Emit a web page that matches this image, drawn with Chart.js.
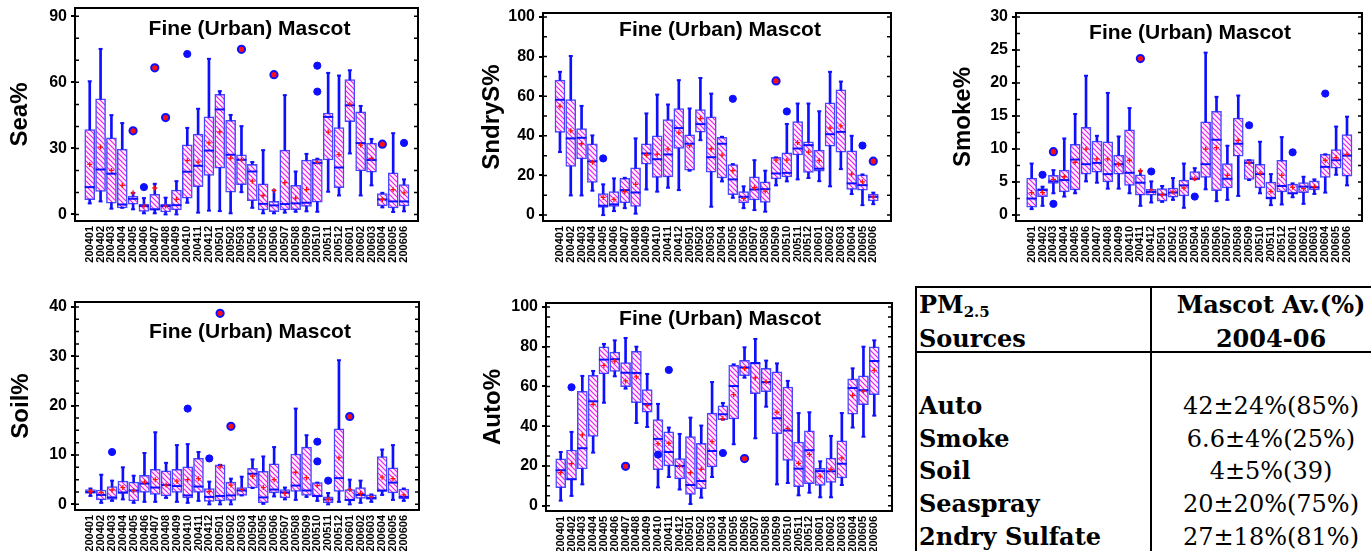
<!DOCTYPE html>
<html>
<head>
<meta charset="utf-8">
<title>Fine (Urban) Mascot</title>
<script src="https://cdn.jsdelivr.net/npm/chart.js@4.4.1/dist/chart.umd.min.js"></script>
<style>
  body { margin: 0; background: #fff; width: 1371px; height: 551px; overflow: hidden; position: relative; }
  canvas { position: absolute; }
  .line { position: absolute; background: #000; }
  .txt { position: absolute; font-family: "DejaVu Serif", "Liberation Serif", serif; font-size: 24px; line-height: 28px; white-space: nowrap; color: #000; }
  .l { left: 919px; font-weight: bold; }
  .r { left: 1152px; width: 238px; text-align: center; }
  .b { font-weight: bold; }
  .sub { font-size: 15px; position: relative; top: 4px; }
</style>
</head>
<body>
<canvas id="sea" width="430" height="275" style="left:0;top:0"></canvas>
<canvas id="sulf" width="445" height="275" style="left:460px;top:0"></canvas>
<canvas id="smoke" width="461" height="275" style="left:910px;top:0"></canvas>
<canvas id="soil" width="430" height="271" style="left:0;top:280px"></canvas>
<canvas id="auto" width="445" height="271" style="left:460px;top:280px"></canvas>

<div class="line" style="left:915px;top:286px;width:460px;height:2px"></div>
<div class="line" style="left:915px;top:286px;width:2px;height:270px"></div>
<div class="line" style="left:1150px;top:286px;width:2px;height:270px"></div>
<div class="line" style="left:915px;top:351px;width:460px;height:2px"></div>
<div class="txt l" style="top:291px">PM<span class="sub">2.5</span></div>
<div class="txt l" style="top:325px">Sources</div>
<div class="txt r b" style="top:291px">Mascot Av.(%)</div>
<div class="txt r b" style="top:325px">2004-06</div>
<div id="rows"></div>

<script>
'use strict'

/* global Chart */

const months = ['200401', '200402', '200403', '200404', '200405', '200406', '200407', '200408', '200409', '200410',
  '200411', '200412', '200501', '200502', '200503', '200504', '200505', '200506', '200507', '200508',
  '200509', '200510', '200511', '200512', '200601', '200602', '200603', '200604', '200605', '200606']

// Sea%
const seaMin = [5.0, 5.9, 2.6, 3.0, 2.3, 0.5, 0.5, 0, 0, 5.3, 0.8, 1.7, 1.5, 0.5, 10.1, 3.0, 0.5, 0.5, 0.8, 1.2, 1.4, 1.2, 10.3, 8.6, 27.7, 8.6, 13.2, 3.2, 1.1, 1.4]
const seaQ1 = [6.7, 10.4, 5.1, 3.0, 4.7, 1.4, 2.0, 1.1, 2.0, 7.4, 12.6, 17.7, 21.0, 10.1, 13.5, 6.2, 2.0, 1.2, 2.0, 2.1, 3.6, 5.6, 24.8, 12.1, 42.1, 19.8, 19.2, 3.9, 3.0, 3.8]
const seaMed = [12.4, 20.4, 18.5, 4.5, 7.1, 3.8, 2.3, 3.8, 4.2, 19.4, 22.1, 29.0, 47.7, 27.1, 24.8, 19.5, 4.8, 4.1, 4.7, 5.0, 5.3, 23.4, 44.3, 21.3, 49.6, 32.4, 24.7, 6.8, 5.9, 5.9]
const seaQ3 = [38.6, 52.5, 34.8, 29.7, 8.3, 4.7, 9.1, 4.7, 11.0, 31.6, 36.5, 44.3, 54.6, 42.8, 27.1, 22.8, 13.9, 5.9, 29.2, 13.2, 24.7, 25.0, 46.1, 39.5, 61.3, 46.6, 32.4, 9.5, 18.9, 13.5]
const seaMax = [60.5, 75.2, 45.1, 41.5, 9.8, 7.4, 13.9, 7.6, 15.1, 39.3, 48.0, 70.7, 56.0, 45.2, 40.1, 23.8, 29.2, 10.9, 54.2, 19.5, 27.5, 25.3, 64.3, 63.1, 65.5, 49.3, 34.3, 9.8, 36.9, 15.9]
const seaMean = [22.7, 30.6, 20.0, 13.2, 9.8, 3.8, 12.0, 3.8, 6.8, 24.4, 23.8, 32.5, 37.5, 25.6, 24.8, 15.1, 8.6, 10.9, 14.4, 7.4, 11.3, 23.8, 37.4, 27.2, 50.1, 31.5, 25.4, 6.8, 11.3, 9.8]
const seaOutliers = [['200406', 12.4], ['200410', 72.9], ['200510', 67.6], ['200510', 55.8], ['200606', 32.5]]
const seaOutliersRed = [['200405', 38.0], ['200407', 66.6], ['200408', 44.0], ['200503', 75.0], ['200506', 63.5], ['200604', 31.9]]
const seaTicks = [0, 30, 60, 90]

// SndryS%
const sulMin = [31.8, 9.9, 9.9, 12.3, 0, 2.0, 3.5, 0.7, 12.9, 11.8, 13.8, 12.6, 22.4, 37.8, 4.2, 17.0, 8.7, 3.5, 2.5, 1.7, 15.0, 17.0, 18.0, 18.7, 17.1, 14.5, 23.2, 10.6, 5.0, 5.5]
const sulQ1 = [41.7, 24.5, 28.4, 16.5, 3.9, 4.4, 6.1, 4.4, 25.7, 19.0, 19.3, 33.6, 22.7, 41.8, 21.7, 18.7, 10.3, 6.1, 7.6, 6.4, 18.2, 19.2, 30.3, 21.5, 22.2, 34.8, 31.8, 12.9, 12.6, 7.1]
const sulMed = [58.2, 38.7, 39.0, 27.1, 4.7, 5.4, 12.6, 11.4, 31.1, 28.2, 30.6, 43.9, 36.0, 45.9, 29.2, 36.0, 18.0, 9.2, 12.9, 13.1, 21.0, 21.3, 33.6, 35.3, 23.4, 40.8, 42.0, 16.0, 15.1, 9.2]
const sulQ3 = [68.1, 58.3, 43.7, 36.0, 10.9, 11.9, 18.5, 23.9, 36.0, 40.0, 48.2, 53.8, 40.5, 53.3, 49.6, 39.2, 25.5, 11.9, 19.3, 16.8, 29.1, 31.4, 47.2, 37.0, 32.8, 56.6, 63.2, 32.4, 20.3, 10.6]
const sulMax = [72.3, 80.3, 55.1, 40.2, 15.5, 18.5, 18.8, 38.7, 51.3, 60.8, 55.8, 68.1, 53.8, 69.2, 61.3, 39.5, 25.7, 14.5, 27.7, 22.4, 29.1, 46.0, 56.3, 56.3, 52.4, 72.3, 67.4, 40.0, 20.5, 11.3]
const sulMean = [55.0, 42.5, 36.0, 26.7, 8.9, 7.9, 11.8, 15.5, 30.3, 30.8, 33.4, 41.5, 35.1, 48.7, 33.4, 30.3, 22.4, 8.4, 13.8, 12.1, 27.7, 27.7, 36.6, 31.8, 27.6, 43.9, 45.0, 20.7, 16.8, 9.2]
const sulOutliers = [['200405', 28.6], ['200505', 58.7], ['200510', 52.3], ['200605', 35.1]]
const sulOutliersRed = [['200509', 67.7], ['200606', 27.2]]
const sulTicks = [0, 20, 40, 60, 80, 100]

// Smoke%
const smkMin = [0.9, 1.4, 3.3, 2.8, 3.3, 5.1, 4.9, 4.0, 4.0, 3.3, 1.4, 1.9, 2.0, 2.3, 1.1, 5.4, 3.9, 2.1, 2.3, 2.9, 5.3, 3.3, 1.5, 1.6, 2.7, 1.7, 3.2, 3.4, 6.1, 4.5]
const smkQ1 = [1.2, 2.8, 4.8, 3.5, 3.8, 6.2, 6.5, 5.0, 6.2, 4.5, 3.0, 3.0, 2.1, 2.7, 2.9, 5.4, 5.7, 3.7, 4.1, 8.9, 5.4, 4.1, 2.4, 3.5, 3.2, 3.4, 3.8, 5.7, 7.1, 5.9]
const smkMed = [2.5, 3.8, 5.1, 5.3, 8.4, 7.7, 7.9, 6.2, 7.7, 6.4, 4.9, 3.5, 3.1, 3.4, 4.5, 5.5, 7.7, 11.4, 5.5, 10.8, 7.9, 6.2, 2.6, 4.4, 3.3, 4.3, 4.2, 7.3, 8.3, 9.0]
const smkQ3 = [5.6, 4.0, 6.0, 6.8, 10.7, 13.3, 11.2, 11.1, 9.1, 12.9, 6.1, 3.9, 4.0, 4.1, 5.3, 6.6, 14.1, 15.7, 7.8, 14.7, 8.4, 7.7, 5.0, 8.3, 4.7, 4.9, 5.2, 9.2, 9.9, 12.2]
const smkMax = [7.8, 4.3, 6.8, 11.6, 15.3, 21.1, 12.0, 18.5, 11.9, 16.2, 6.7, 5.1, 4.4, 5.6, 7.8, 7.1, 24.6, 17.9, 10.5, 18.1, 8.3, 11.1, 6.2, 11.8, 4.8, 5.8, 5.4, 9.2, 13.4, 14.9]
const smkMean = [3.4, 3.4, 5.4, 5.8, 8.0, 10.0, 8.5, 8.5, 7.7, 8.3, 6.7, 3.8, 3.1, 3.5, 4.1, 5.5, 10.0, 10.2, 6.0, 11.3, 7.9, 6.3, 3.6, 6.0, 4.2, 4.0, 4.3, 8.3, 8.7, 9.2]
const smkOutliers = [['200402', 6.1], ['200403', 1.7], ['200412', 6.6], ['200504', 2.8], ['200509', 13.6], ['200601', 9.5], ['200604', 18.4]]
const smkOutliersRed = [['200403', 9.6], ['200411', 23.7]]
const smkTicks = [0, 5, 10, 15, 20, 25, 30]

// Soil%
const soilMin = [1.7, 0.3, 0.7, 1.0, 0.3, 0.5, 0.5, 1.3, 0.5, 0.3, 0.7, 0, 0, 0, 1.8, 3.3, 0.1, 1.6, 1.0, 0.9, 1.5, 0.7, 0, 0.5, 0, 0.3, 0.5, 1.9, 0.9, 0.7]
const soilQ1 = [2.2, 0.9, 1.0, 2.2, 0.7, 2.4, 2.0, 1.7, 2.4, 1.3, 2.4, 0.6, 0.7, 0.8, 1.8, 3.3, 0.3, 2.3, 1.3, 2.6, 1.8, 1.5, 0.3, 2.6, 0.7, 1.2, 1.0, 2.6, 2.3, 1.1]
const soilMed = [2.5, 1.9, 1.4, 2.4, 2.8, 4.2, 3.4, 3.9, 3.7, 1.8, 3.6, 1.5, 1.7, 1.8, 2.8, 6.2, 1.4, 3.0, 2.4, 3.8, 2.8, 1.7, 1.0, 5.3, 0.9, 1.9, 1.3, 2.8, 4.4, 1.5]
const soilQ3 = [3.0, 2.9, 3.6, 4.7, 4.5, 5.9, 7.1, 6.8, 7.1, 7.6, 9.3, 3.2, 8.0, 4.5, 3.4, 7.3, 6.7, 8.2, 3.0, 10.2, 11.6, 4.4, 1.5, 15.3, 3.0, 3.4, 1.9, 9.7, 7.4, 3.1]
const soilMax = [3.2, 6.0, 4.8, 7.5, 5.8, 10.4, 14.6, 8.4, 12.0, 12.2, 10.6, 4.6, 8.0, 5.2, 5.6, 9.1, 9.7, 11.6, 3.4, 19.4, 14.0, 4.4, 2.3, 29.2, 5.0, 4.8, 2.0, 11.1, 12.0, 3.2]
const soilMean = [2.6, 2.4, 2.9, 3.4, 2.8, 4.5, 5.0, 3.9, 4.7, 5.0, 5.2, 2.6, 7.6, 3.9, 3.0, 5.7, 3.4, 5.0, 2.2, 6.5, 5.4, 3.8, 1.0, 9.4, 3.0, 2.2, 1.5, 5.5, 5.2, 1.9]
const soilOutliers = [['200403', 10.6], ['200410', 19.4], ['200412', 9.3], ['200510', 12.7], ['200510', 8.7], ['200511', 4.8]]
const soilOutliersRed = [['200501', 38.7], ['200502', 15.8], ['200601', 17.8]]
const soilTicks = [0, 10, 20, 30, 40]

// Auto%
const autoMin = [2.5, 4.9, 10.7, 26.7, 51.8, 65.1, 58.9, 41.6, 39.6, 9.2, 14.4, 8.1, 0.8, 4.0, 14.4, 43.3, 30.9, 64.4, 33.9, 49.8, 10.7, 11.4, 5.2, 6.5, 4.2, 4.2, 10.4, 39.3, 34.7, 45.3]
const autoQ1 = [9.1, 12.9, 18.5, 34.9, 66.3, 67.6, 59.9, 51.8, 47.1, 18.1, 20.0, 13.4, 5.7, 8.6, 19.5, 43.3, 43.6, 65.4, 56.4, 57.4, 36.2, 22.7, 9.6, 11.1, 10.2, 11.7, 13.9, 46.0, 50.8, 55.9]
const autoMed = [17.8, 13.3, 28.9, 52.5, 73.5, 73.7, 66.9, 66.8, 51.2, 33.6, 27.0, 20.0, 10.4, 12.4, 27.5, 46.0, 60.2, 69.5, 71.8, 62.2, 44.0, 37.8, 18.6, 27.9, 17.4, 17.3, 21.1, 59.2, 58.1, 72.8]
const autoQ3 = [23.5, 28.0, 57.6, 65.6, 79.9, 77.3, 72.0, 77.7, 58.4, 43.3, 37.1, 23.7, 34.7, 31.4, 46.6, 50.2, 70.6, 73.2, 71.8, 69.1, 67.3, 59.7, 32.0, 37.6, 18.8, 24.0, 32.6, 63.8, 65.3, 79.9]
const autoMax = [27.0, 37.1, 65.3, 67.8, 81.4, 83.2, 84.4, 80.0, 66.3, 51.2, 39.3, 36.1, 44.3, 40.3, 62.2, 51.7, 71.1, 79.7, 83.9, 73.0, 71.6, 62.8, 46.6, 47.0, 22.3, 35.1, 46.6, 69.1, 80.0, 83.2]
const autoMean = [16.6, 21.1, 35.6, 51.0, 70.6, 72.7, 62.8, 64.8, 50.3, 31.2, 31.4, 20.0, 16.6, 18.3, 32.2, 43.8, 55.9, 69.0, 64.3, 62.4, 47.0, 38.9, 21.3, 25.8, 14.9, 18.3, 24.0, 55.5, 57.7, 68.1]
const autoOutliers = [['200402', 59.6], ['200410', 25.7], ['200411', 68.3], ['200504', 26.5]]
const autoOutliersRed = [['200407', 19.8], ['200506', 23.7]]
const autoTicks = [0, 20, 40, 60, 80, 100]

// table
const sourceNames = ['Auto', 'Smoke', 'Soil', 'Seaspray', '2ndry Sulfate']
const sourceAverages = ['42±24%(85%)', '6.6±4%(25%)', '4±5%(39)', '20±20%(75%)', '27±18%(81%)']

const BLUE = '#0f0fff'
const RED = '#ff1010'
const panelTitle = 'Fine (Urban) Mascot'

Chart.defaults.font.family = '"Liberation Sans", Arial, Helvetica, sans-serif'
Chart.defaults.color = '#000'

function makeHatch () {
  const c = document.createElement('canvas')
  c.width = 5
  c.height = 5
  const g = c.getContext('2d')
  g.fillStyle = '#fff4fc'
  g.fillRect(0, 0, 5, 5)
  g.strokeStyle = '#f01ef0'
  g.lineWidth = 1.2
  g.beginPath()
  g.moveTo(-1, -1); g.lineTo(6, 6)
  g.moveTo(-1, 4); g.lineTo(1, 6)
  g.moveTo(4, -1); g.lineTo(6, 1)
  g.stroke()
  return g.createPattern(c, 'repeat')
}
const hatch = makeHatch()

// box frame, inner minor ticks and the in-plot title
const framePlugin = {
  id: 'frame',
  afterDraw (chart, args, opts) {
    const { ctx, chartArea: a } = chart
    const y = chart.scales.y
    ctx.save()
    ctx.strokeStyle = '#000'
    ctx.lineWidth = 1.5
    ctx.beginPath()
    for (let v = 0; v <= y.max + 1e-6; v += opts.minor) {
      const py = y.getPixelForValue(v)
      ctx.moveTo(a.left, py); ctx.lineTo(a.left + 4, py)
      ctx.moveTo(a.right, py); ctx.lineTo(a.right - 4, py)
    }
    ctx.stroke()
    ctx.lineWidth = 2
    ctx.strokeRect(a.left, a.top, a.right - a.left, a.bottom - a.top)
    ctx.font = 'bold 21px "Liberation Sans", Arial, sans-serif'
    ctx.fillStyle = '#000'
    ctx.textAlign = 'center'
    ctx.textBaseline = 'middle'
    ctx.fillText(opts.text, (a.left + a.right) / 2 + opts.dx, a.top + opts.dy)
    ctx.restore()
  }
}

function points (pairs) {
  return pairs.map(p => ({ x: months.indexOf(p[0]), y: p[1] }))
}

function makePanel (id, s, g) {
  const canvas = document.getElementById(id)
  const W = canvas.width
  const H = canvas.height
  const idx = months.map((m, i) => i)
  return new Chart(canvas, {
    type: 'bar',
    data: {
      datasets: [{
        type: 'bar',
        data: idx.map(i => ({ x: i, y: [s.min[i], s.max[i]] })),
        backgroundColor: BLUE,
        barThickness: 2,
        grouped: false,
        order: 6
      }, {
        type: 'bar',
        data: idx.map(i => ({ x: i, y: [s.q1[i], s.q3[i]] })),
        backgroundColor: hatch,
        borderColor: 'rgba(40,40,255,0.85)',
        borderWidth: 1.5,
        borderSkipped: false,
        barThickness: 10,
        grouped: false,
        order: 5
      }, {
        type: 'line',
        showLine: false,
        data: idx.flatMap(i => [{ x: i, y: s.min[i] }, { x: i, y: s.max[i] }]),
        pointStyle: 'line',
        pointRadius: 2,
        pointBorderColor: BLUE,
        pointBorderWidth: 2,
        order: 4
      }, {
        type: 'line',
        showLine: false,
        data: idx.map(i => ({ x: i, y: s.med[i] })),
        pointStyle: 'line',
        pointRadius: 5,
        pointBorderColor: BLUE,
        pointBorderWidth: 2,
        order: 3
      }, {
        type: 'line',
        showLine: false,
        data: idx.map(i => ({ x: i, y: s.mean[i] })),
        pointStyle: 'cross',
        pointRadius: 2.5,
        pointBorderColor: RED,
        pointBorderWidth: 1.3,
        order: 2
      }, {
        type: 'line',
        showLine: false,
        data: points(s.out),
        pointStyle: 'circle',
        pointRadius: 3.6,
        pointBackgroundColor: BLUE,
        pointBorderColor: BLUE,
        pointBorderWidth: 1,
        order: 1
      }, {
        type: 'line',
        showLine: false,
        data: points(s.outRed),
        pointStyle: 'circle',
        pointRadius: 3.6,
        pointBackgroundColor: RED,
        pointBorderColor: BLUE,
        pointBorderWidth: 2,
        order: 0
      }]
    },
    options: {
      responsive: false,
      animation: false,
      devicePixelRatio: 1,
      layout: { padding: { top: g.top, right: W - g.right, left: 0, bottom: 0 } },
      plugins: {
        legend: { display: false },
        tooltip: { enabled: false },
        frame: { text: panelTitle, dx: g.dx, dy: g.dy, minor: g.minor }
      },
      scales: {
        x: {
          type: 'linear',
          min: g.xMin,
          max: g.xMax,
          offset: false,
          afterBuildTicks: (sc) => { sc.ticks = idx.map(i => ({ value: i })) },
          afterFit: (sc) => { sc.height = H - g.bottom; sc.paddingLeft = 0; sc.paddingRight = 0 },
          grid: { display: false, drawTicks: false },
          border: { display: false },
          ticks: {
            autoSkip: false,
            minRotation: 90,
            maxRotation: 90,
            padding: 5,
            font: { size: 11, weight: 'bold' },
            callback: (v) => months[v]
          }
        },
        y: {
          min: g.yMin,
          max: g.yMax,
          afterBuildTicks: (sc) => { sc.ticks = s.ticks.map(v => ({ value: v })) },
          afterFit: (sc) => { sc.width = g.left; sc.paddingTop = 0; sc.paddingBottom = 0 },
          grid: { drawOnChartArea: false, tickLength: 4, color: '#000', lineWidth: 2 },
          border: { display: false },
          ticks: { padding: 4, font: { size: 16, weight: 'bold' } },
          title: {
            display: true,
            text: s.label,
            font: { size: 24, weight: 'bold' },
            padding: { top: g.titlePad, bottom: 0 }
          }
        }
      }
    },
    plugins: [framePlugin]
  })
}

makePanel('sea',
  { label: 'Sea%', min: seaMin, q1: seaQ1, med: seaMed, q3: seaQ3, max: seaMax, mean: seaMean, out: seaOutliers, outRed: seaOutliersRed, ticks: seaTicks },
  { left: 75, right: 418, top: 8, bottom: 221, xMin: -1.36, xMax: 30.29, yMin: -3, yMax: 93.8, titlePad: 6, dx: 3, dy: 21, minor: 10 })

makePanel('sulf',
  { label: 'SndryS%', min: sulMin, q1: sulQ1, med: sulMed, q3: sulQ3, max: sulMax, mean: sulMean, out: sulOutliers, outRed: sulOutliersRed, ticks: sulTicks },
  { left: 83, right: 431, top: 13, bottom: 221, xMin: -1.57, xMax: 30.64, yMin: -3, yMax: 102, titlePad: 18, dx: 3, dy: 17, minor: 10 })

makePanel('smoke',
  { label: 'Smoke%', min: smkMin, q1: smkQ1, med: smkMed, q3: smkQ3, max: smkMax, mean: smkMean, out: smkOutliers, outRed: smkOutliersRed, ticks: smkTicks },
  { left: 106, right: 452, top: 13, bottom: 221, xMin: -1.44, xMax: 30.38, yMin: -0.9, yMax: 30.6, titlePad: 39, dx: 1, dy: 20, minor: 2.5 })

makePanel('soil',
  { label: 'Soil%', min: soilMin, q1: soilQ1, med: soilMed, q3: soilQ3, max: soilMax, mean: soilMean, out: soilOutliers, outRed: soilOutliersRed, ticks: soilTicks },
  { left: 75, right: 419, top: 22, bottom: 230, xMin: -1.43, xMax: 30.41, yMin: -1.15, yMax: 41, titlePad: 7, dx: 3, dy: 30, minor: 2.5 })

makePanel('auto',
  { label: 'Auto%', min: autoMin, q1: autoQ1, med: autoMed, q3: autoQ3, max: autoMax, mean: autoMean, out: autoOutliers, outRed: autoOutliersRed, ticks: autoTicks },
  { left: 86, right: 432, top: 23, bottom: 231, xMin: -1.36, xMax: 30.64, yMin: -2.7, yMax: 102, titlePad: 19, dx: 1, dy: 16, minor: 5 })

// table rows
const rows = document.getElementById('rows')
sourceNames.forEach((name, i) => {
  const top = 392 + i * 32.7
  const left = document.createElement('div')
  left.className = 'txt l'
  left.style.top = top + 'px'
  left.textContent = name
  const right = document.createElement('div')
  right.className = 'txt r'
  right.style.top = top + 'px'
  right.textContent = sourceAverages[i]
  rows.appendChild(left)
  rows.appendChild(right)
})
</script>
</body>
</html>
